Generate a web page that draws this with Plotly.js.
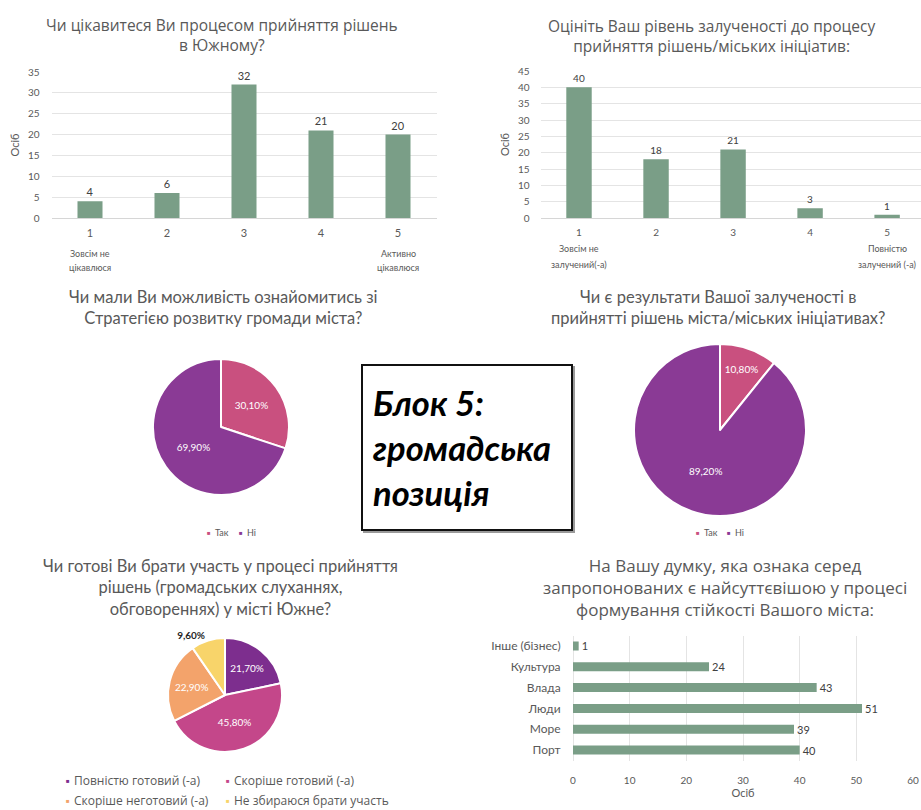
<!DOCTYPE html>
<html><head><meta charset="utf-8">
<script src="https://cdn.plot.ly/plotly-3.0.1.min.js"></script>
<style>html,body{margin:0;padding:0;background:#fff}#chart{width:921px;height:810px}</style>
</head><body><div id="chart"></div>
<script>
// ---------- data ----------
const interestCats = [1, 2, 3, 4, 5];
const interestVals = [4, 6, 32, 21, 20];
const interestEndCats = [1, 5];
const interestEndLabels = ['Зовсім не<br>цікавлюся', 'Активно<br>цікавлюся'];

const involveCats = [1, 2, 3, 4, 5];
const involveVals = [40, 18, 21, 3, 1];
const involveEndCats = [1, 5];
const involveEndLabels = ['Зовсім не<br>залучений(-а)', 'Повністю<br>залучений (-а)'];

const yesNoLabels = ['Так', 'Ні'];
const strategyPct = [30.1, 69.9];
const resultsPct = [10.8, 89.2];

const readyLabels = ['Повністю готовий (-а)', 'Скоріше готовий (-а)', 'Скоріше неготовий (-а)', 'Не збираюся брати участь'];
const readyPct = [21.7, 45.8, 22.9, 9.6];

const traitCats = ['Інше (бізнес)', 'Культура', 'Влада', 'Люди', 'Море', 'Порт'];
const traitVals = [1, 24, 43, 51, 39, 40];

const titles = [
  'Чи цікавитеся Ви процесом прийняття рішень<br>в Южному?',
  'Оцініть Ваш рівень залученості до процесу<br>прийняття рішень/міських ініціатив:',
  'Чи мали Ви можливість ознайомитись зі<br>Стратегією розвитку громади міста?',
  'Чи є результати Вашої залученості в<br>прийнятті рішень міста/міських ініціативах?',
  'Чи готові Ви брати участь у процесі прийняття<br>рішень (громадських слуханнях,<br>обговореннях) у місті Южне?',
  'На Вашу думку, яка ознака серед<br>запропонованих є найсуттєвішою у процесі<br>формування стійкості Вашого міста:'
];
const blockText = 'Блок 5:<br>громадська<br>позиція';
const axisUnit = 'Осіб';

// ---------- styles / geometry helpers (pixels -> paper) ----------
const W = 921, H = 810;
const px = p => p / W;
const py = p => 1 - p / H;

const GREEN = '#7A9E87';
const GRID = '#e4e4e4';
const TXT = '#595959';
const LAB = '#404040';
const FONT = 'Lato, "Open Sans", sans-serif';
const TFONT = '"Open Sans", Lato, sans-serif';
const yesNoColors = ['#C9507F', '#8A3A95'];
const readyColors = ['#7D2E8E', '#C4478A', '#F3A36B', '#F8D46A'];

const traces = [
  { type: 'bar', x: interestCats, y: interestVals, xaxis: 'x', yaxis: 'y', width: 0.325,
    marker: { color: GREEN }, texttemplate: '%{y}', textposition: 'outside', cliponaxis: false,
    constraintext: 'none', textfont: { size: 11, color: LAB }, showlegend: false, hoverinfo: 'skip' },
  { type: 'bar', x: involveCats, y: involveVals, xaxis: 'x2', yaxis: 'y2', width: 0.33,
    marker: { color: GREEN }, texttemplate: '%{y}', textposition: 'outside', cliponaxis: false,
    constraintext: 'none', textfont: { size: 10, color: LAB }, showlegend: false, hoverinfo: 'skip' },
  { type: 'pie', labels: yesNoLabels, values: strategyPct, sort: false, direction: 'clockwise', rotation: 0,
    domain: { x: [px(153), px(289)], y: [py(495), py(359)] },
    marker: { colors: yesNoColors, line: { color: '#ffffff', width: 2 } },
    texttemplate: '%{value:.2f}%', textposition: 'inside', insidetextorientation: 'horizontal',
    textfont: { size: 10, color: '#ffffff', family: FONT }, showlegend: false, hoverinfo: 'skip' },
  { type: 'pie', labels: yesNoLabels, values: resultsPct, sort: false, direction: 'clockwise', rotation: 0,
    domain: { x: [px(634), px(806)], y: [py(516), py(344)] },
    marker: { colors: yesNoColors, line: { color: '#ffffff', width: 2 } },
    texttemplate: '%{value:.2f}%', textposition: 'inside', insidetextorientation: 'horizontal',
    textfont: { size: 10, color: '#ffffff', family: FONT }, showlegend: false, hoverinfo: 'skip' },
  { type: 'pie', labels: readyLabels, values: readyPct, sort: false, direction: 'clockwise', rotation: 0,
    domain: { x: [px(168), px(282)], y: [py(752), py(638)] },
    marker: { colors: readyColors, line: { color: '#ffffff', width: 2 } },
    texttemplate: ['%{value:.2f}%', '%{value:.2f}%', '%{value:.2f}%', '<b>%{value:.2f}%</b>'],
    textposition: ['inside', 'inside', 'inside', 'outside'], insidetextorientation: 'horizontal',
    insidetextfont: { size: 10, color: '#ffffff', family: FONT },
    outsidetextfont: { size: 10, color: '#262626', family: FONT },
    showlegend: false, hoverinfo: 'skip' },
  { type: 'bar', orientation: 'h', y: traitCats, x: traitVals, xaxis: 'x3', yaxis: 'y3', width: 0.43,
    marker: { color: GREEN }, texttemplate: '%{x}', textposition: 'outside', cliponaxis: false,
    constraintext: 'none', textfont: { size: 11, color: LAB }, showlegend: false, hoverinfo: 'skip' }
];

const annotations = [];
const titlePos = [
  { x: 222, y: 35, size: 15.5, fam: TFONT },
  { x: 711, y: 36, size: 15.5, fam: TFONT },
  { x: 223, y: 308, size: 16.5, fam: FONT },
  { x: 718, y: 308, size: 16.5, fam: FONT },
  { x: 220, y: 587, size: 16.5, fam: FONT },
  { x: 725, y: 587, size: 17, fam: TFONT }
];
titles.forEach((t, i) => {
  const p = titlePos[i];
  annotations.push({ text: t, xref: 'paper', yref: 'paper', x: px(p.x), y: py(p.y),
    xanchor: 'center', yanchor: 'middle', showarrow: false, align: 'center',
    font: { family: p.fam, size: p.size, color: TXT } });
});
function endLabels(cats, labels, xref, top) {
  cats.forEach((c, i) => {
    labels[i].split('<br>').forEach((line, j) => {
      annotations.push({ text: line, xref: xref, yref: 'paper', x: c, y: py(top + j * 15),
        xanchor: 'center', yanchor: 'middle', showarrow: false,
        font: { family: FONT, size: 9, color: TXT } });
    });
  });
}
endLabels(interestEndCats, interestEndLabels, 'x', 253);
endLabels(involveEndCats, involveEndLabels, 'x2', 249);

// legends drawn as small bullets + text, like the original
function bulletLegend(labels, colors, spots, size, fam) {
  labels.forEach((lab, i) => {
    const s = spots[i];
    annotations.push({ text: '■', xref: 'paper', yref: 'paper', x: px(s[0]), y: py(s[1]),
      xanchor: 'center', yanchor: 'middle', showarrow: false, font: { size: 6, color: colors[i] } });
    annotations.push({ text: lab, xref: 'paper', yref: 'paper', x: px(s[0] + 4), y: py(s[1]),
      xanchor: 'left', yanchor: 'middle', showarrow: false, font: { size: size, color: TXT, family: fam } });
  });
}
bulletLegend(yesNoLabels, yesNoColors, [[209, 532], [241, 532]], 9, FONT);
bulletLegend(yesNoLabels, yesNoColors, [[698, 532], [729, 532]], 9, FONT);
bulletLegend(readyLabels, readyColors, [[68, 780], [228, 780], [68, 800], [228, 800]], 12, TFONT);

annotations.push({ text: '<i><b>' + blockText + '</b></i>', xref: 'paper', yref: 'paper',
  x: px(371), y: py(448), xanchor: 'left', yanchor: 'middle', align: 'left', showarrow: false,
  font: { family: FONT, size: 34.5, color: '#000000' } });

const axTick = { size: 10, color: TXT, family: FONT };
const layout = {
  width: W, height: H,
  margin: { l: 0, r: 0, t: 0, b: 0, autoexpand: false },
  paper_bgcolor: '#ffffff', plot_bgcolor: 'rgba(0,0,0,0)',
  font: { family: FONT, color: TXT },
  separators: ', ',
  showlegend: false,
  xaxis: { domain: [px(51.5), px(436.5)], range: [0.5, 5.5], anchor: 'y', tickvals: interestCats,
    ticks: 'outside', ticklen: 5, tickcolor: 'rgba(0,0,0,0)', tickfont: { size: 11, color: TXT, family: FONT },
    showgrid: false, zeroline: false, showline: false },
  yaxis: { domain: [py(218), py(72)], range: [0, 35], dtick: 5, anchor: 'x',
    gridcolor: GRID, zeroline: true, zerolinecolor: '#d6d6d6', zerolinewidth: 1, showline: false,
    ticks: 'outside', ticklen: 9, tickcolor: 'rgba(0,0,0,0)', tickfont: axTick,
    title: { text: axisUnit, font: { size: 11, color: TXT, family: FONT }, standoff: 6 } },
  xaxis2: { domain: [px(540.5), 1], range: [0.5, 5.44], anchor: 'y2', tickvals: involveCats,
    ticks: 'outside', ticklen: 5, tickcolor: 'rgba(0,0,0,0)', tickfont: { size: 10, color: TXT, family: FONT },
    showgrid: false, zeroline: false, showline: false },
  yaxis2: { domain: [py(218), py(71)], range: [0, 45], dtick: 5, anchor: 'x2',
    gridcolor: GRID, zeroline: true, zerolinecolor: '#d6d6d6', zerolinewidth: 1, showline: false,
    ticks: 'outside', ticklen: 8, tickcolor: 'rgba(0,0,0,0)', tickfont: axTick,
    title: { text: axisUnit, font: { size: 11, color: TXT, family: FONT }, standoff: 6 } },
  xaxis3: { domain: [px(573), px(913)], range: [0, 60], dtick: 10, anchor: 'y3',
    gridcolor: GRID, zeroline: true, zerolinecolor: GRID, showline: false,
    ticks: 'outside', ticklen: 10, tickcolor: 'rgba(0,0,0,0)', tickfont: axTick, ticklabeloverflow: 'allow',
    title: { text: axisUnit, font: { size: 11, color: TXT, family: FONT }, standoff: 4 } },
  yaxis3: { domain: [py(760.5), py(635.5)], autorange: 'reversed', anchor: 'x3', type: 'category',
    showgrid: false, zeroline: false, showline: false,
    ticks: 'outside', ticklen: 9, tickcolor: 'rgba(0,0,0,0)', tickfont: { size: 12, color: TXT, family: FONT } },
  shapes: [
    { type: 'rect', xref: 'paper', yref: 'paper', x0: px(364), x1: px(574), y0: py(532), y1: py(367),
      line: { color: '#9a9a9a', width: 2 }, layer: 'below' },
    { type: 'rect', xref: 'paper', yref: 'paper', x0: px(362), x1: px(572), y0: py(530), y1: py(365),
      line: { color: '#111111', width: 2 }, fillcolor: '#ffffff', layer: 'below' }
  ],
  annotations: annotations
};

Plotly.newPlot('chart', traces, layout, { staticPlot: true, displayModeBar: false });
</script>
</body></html>
